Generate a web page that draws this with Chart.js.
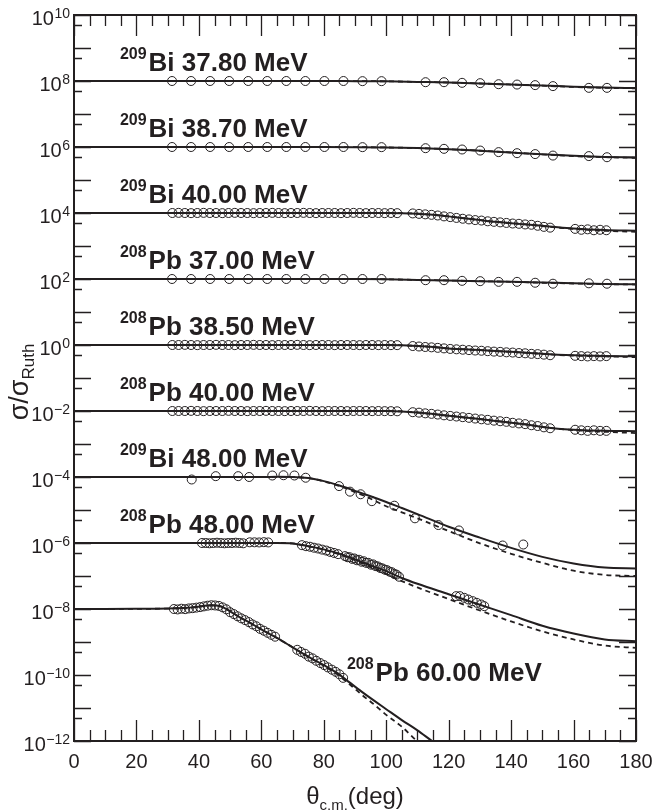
<!DOCTYPE html>
<html>
<head>
<meta charset="utf-8">
<title>Elastic scattering angular distributions</title>
<script src="https://cdn.jsdelivr.net/npm/chart.js@4.4.1/dist/chart.umd.min.js"></script>
<style>
  html, body { margin: 0; padding: 0; background: #ffffff; }
  canvas { display: block; }
</style>
</head>
<body>
<canvas id="chart" width="652" height="811"></canvas>
<script>
// ---------- data: sigma/sigma_Ruth versus theta_cm (deg) ----------

// vertical shift applied to each angular distribution
const offsets = [1e8, 1e6, 1e4, 1e2, 1, 1e-2, 1e-4, 1e-6, 1e-8];

// reaction labels
const labelIsotopes = ['209', '209', '209', '208', '208', '208', '209', '208', '208'];
const labelNuclei   = ['Bi', 'Bi', 'Bi', 'Pb', 'Pb', 'Pb', 'Bi', 'Pb', 'Pb'];
const labelEnergies = ['37.80', '38.70', '40.00', '37.00', '38.50', '40.00', '48.00', '48.00', '60.00'];

// y-axis decades that carry a label
const yLabelExponents = [-12, -10, -8, -6, -4, -2, 0, 2, 4, 6, 8, 10];
const xLabelValues = [0, 20, 40, 60, 80, 100, 120, 140, 160, 180];

// measured angles, coarse sets
const thetaSparse = [31.4, 37.5, 43.6, 49.7, 55.8, 61.9, 68.0, 74.1, 80.2, 86.3, 92.4, 98.5,
  112.6, 118.5, 124.3, 130.1, 136.0, 141.9, 147.7, 153.4, 164.9, 170.7];
const bi3780Data = [1.0, 1.0, 1.0, 1.0, 1.0, 1.0, 1.0, 1.0, 1.0, 1.0, 0.99, 0.99,
  0.92, 0.92, 0.88, 0.86, 0.80, 0.78, 0.75, 0.70, 0.62, 0.62];
const bi3870Data = [1.0, 1.0, 1.0, 1.0, 1.0, 1.0, 1.0, 1.0, 1.0, 1.0, 0.99, 0.99,
  0.92, 0.88, 0.84, 0.78, 0.70, 0.65, 0.61, 0.55, 0.53, 0.49];
const pb3700Data = [1.0, 1.0, 1.0, 1.0, 1.0, 1.0, 1.0, 1.0, 1.0, 1.0, 1.0, 1.0,
  0.92, 0.92, 0.88, 0.86, 0.82, 0.82, 0.77, 0.72, 0.74, 0.72];

// measured angles, fine sets (2 deg steps)
const thetaDense = [31.5, 33.5, 35.5, 37.5, 39.5, 41.5, 43.5, 45.5, 47.5, 49.5, 51.5, 53.5,
  55.5, 57.5, 59.5, 61.5, 63.5, 65.5, 67.5, 69.5, 71.5, 73.5, 75.5, 77.5, 79.5, 81.5, 83.5,
  85.5, 87.5, 89.5, 91.5, 93.5, 95.5, 97.5, 99.5, 101.5, 103.5,
  108.5, 110.5, 112.5, 114.5, 116.5, 118.5, 120.5, 122.5, 124.5, 126.5, 128.5, 130.5,
  132.5, 134.5, 136.5, 138.5, 140.5, 142.5, 144.5, 146.5, 148.5, 150.5, 152.5,
  160.5, 162.5, 164.5, 166.5, 168.5, 170.5];
const bi4000Data = [1.00, 1.01, 1.00, 0.99, 1.00, 1.01, 1.00, 1.00, 0.99, 1.00, 1.01, 1.00,
  1.00, 0.99, 1.00, 1.00, 1.01, 1.00, 0.99, 1.00, 1.00, 1.01, 1.00, 0.99, 1.00, 1.00, 1.00,
  0.99, 1.00, 1.01, 1.00, 0.99, 1.00, 1.00, 0.99, 1.00, 0.99,
  0.97, 0.94, 0.91, 0.88, 0.84, 0.79, 0.75, 0.71, 0.67, 0.64, 0.61, 0.59,
  0.56, 0.54, 0.52, 0.50, 0.48, 0.47, 0.45, 0.44, 0.41, 0.38, 0.36,
  0.33, 0.31, 0.32, 0.30, 0.31, 0.30];
const pb3850Data = [1.00, 1.00, 1.01, 1.00, 0.99, 1.00, 1.00, 1.01, 1.00, 1.00, 0.99, 1.00,
  1.00, 1.01, 1.00, 1.00, 0.99, 1.00, 1.00, 1.00, 1.01, 1.00, 0.99, 1.00, 1.00, 1.00, 0.99,
  1.00, 1.00, 1.00, 0.99, 1.00, 1.00, 0.99, 1.00, 0.99, 0.99,
  0.93, 0.90, 0.87, 0.85, 0.82, 0.79, 0.76, 0.74, 0.72, 0.70, 0.68, 0.67,
  0.65, 0.63, 0.62, 0.60, 0.59, 0.57, 0.56, 0.54, 0.53, 0.51, 0.49,
  0.47, 0.46, 0.45, 0.46, 0.45, 0.46];
const pb4000Data = [1.00, 1.00, 1.00, 1.01, 1.00, 0.99, 1.00, 1.00, 1.00, 1.01, 1.00, 1.00,
  0.99, 1.00, 1.00, 1.01, 1.00, 1.00, 0.99, 1.00, 1.00, 1.00, 1.01, 1.00, 0.99, 1.00, 1.00,
  1.00, 0.99, 1.00, 1.00, 1.00, 0.99, 1.00, 0.99, 0.99, 0.98,
  0.92, 0.89, 0.85, 0.82, 0.78, 0.74, 0.71, 0.68, 0.65, 0.62, 0.59, 0.56,
  0.54, 0.51, 0.49, 0.47, 0.44, 0.42, 0.40, 0.37, 0.35, 0.32, 0.30,
  0.27, 0.26, 0.25, 0.26, 0.25, 0.25];

// measured angles above the barrier
const thetaBi48 = [37.7, 45.4, 52.6, 56.1, 63.5, 67.1, 70.6, 74.2, 84.9, 88.4, 91.8, 95.4,
  102.6, 109.2, 116.7, 123.3, 137.3, 143.9];
const bi4800Data = [0.84, 1.06, 1.06, 1.0, 1.11, 1.13, 1.11, 0.95, 0.53, 0.36, 0.30, 0.185,
  0.135, 0.056, 0.035, 0.024, 0.0084, 0.009];

const thetaPb48 = [41.0, 42.2, 43.4, 44.6, 45.8, 47.0, 48.2, 49.4, 50.6, 51.8, 53.0, 54.2,
  56.3, 57.8, 59.3, 60.8, 62.2,
  73.0, 74.3, 75.6, 76.9, 78.2, 79.5, 80.8, 82.0, 83.3, 84.6,
  86.8, 87.6, 88.3, 89.1, 89.8, 90.6, 91.3, 92.1, 92.8, 93.6, 94.3, 95.1, 95.8, 96.6,
  97.3, 98.1, 98.8, 99.6, 100.3, 101.1, 101.8, 102.6, 103.3, 104.1,
  122.4, 123.6, 125.0, 126.3, 127.7, 129.0, 130.4, 131.4];
const pb4800Data = [1.0, 1.0, 0.98, 1.0, 1.02, 1.0, 0.98, 1.0, 1.0, 1.02, 1.0, 0.98,
  1.05, 1.05, 1.04, 1.06, 1.04,
  0.86, 0.80, 0.77, 0.72, 0.68, 0.63, 0.59, 0.54, 0.50, 0.46,
  0.40, 0.37, 0.37, 0.33, 0.34, 0.30, 0.31, 0.27, 0.28, 0.25, 0.25, 0.22, 0.225, 0.20,
  0.195, 0.175, 0.17, 0.155, 0.15, 0.135, 0.13, 0.115, 0.11, 0.095,
  0.0245, 0.0245, 0.0218, 0.0194, 0.0173, 0.0154, 0.0137, 0.0122];

const thetaPb60 = [32.0, 33.2, 34.4, 35.6, 36.8, 38.0, 39.2, 40.4, 41.6, 42.8, 44.0, 45.2,
  46.4, 47.6, 48.8, 50.0, 51.2, 52.4, 53.6, 54.8, 56.0, 57.2, 58.4, 59.6, 60.8, 62.0, 63.2, 64.4,
  71.5, 72.7, 74.0, 75.2, 76.4, 77.6, 78.9, 80.1, 81.3, 82.6, 83.8, 85.0, 86.2];
const pb6000Data = [1.0, 0.97, 1.02, 0.99, 1.04, 1.06, 1.1, 1.14, 1.2, 1.26, 1.3, 1.28,
  1.24, 1.12, 0.98, 0.8, 0.7, 0.6, 0.52, 0.46, 0.4, 0.34, 0.3, 0.25, 0.22, 0.19, 0.165, 0.145,
  0.058, 0.05, 0.044, 0.036, 0.032, 0.027, 0.023, 0.02, 0.017, 0.0145, 0.0125, 0.0105, 0.0082];

// calculations: solid and dashed curves
const thetaCoul = [0, 20, 40, 60, 80, 90, 100, 110, 120, 130, 140, 150, 160, 170, 180];
const bi3780Solid  = [1, 1, 1, 1, 1, 0.99, 0.98, 0.94, 0.90, 0.84, 0.78, 0.73, 0.67, 0.63, 0.61];
const bi3780Dashed = [1, 1, 1, 1, 1, 0.99, 0.98, 0.94, 0.90, 0.84, 0.78, 0.72, 0.66, 0.62, 0.60];
const bi3870Solid  = [1, 1, 1, 1, 1, 0.99, 0.97, 0.93, 0.86, 0.77, 0.68, 0.60, 0.54, 0.50, 0.48];
const bi3870Dashed = [1, 1, 1, 1, 1, 0.99, 0.97, 0.93, 0.86, 0.77, 0.68, 0.60, 0.53, 0.49, 0.47];
const pb3700Solid  = [1, 1, 1, 1, 1, 0.995, 0.98, 0.94, 0.90, 0.86, 0.82, 0.78, 0.74, 0.71, 0.69];
const pb3700Dashed = [1, 1, 1, 1, 1, 0.995, 0.98, 0.94, 0.90, 0.86, 0.82, 0.77, 0.73, 0.70, 0.68];

const thetaNear = [0, 20, 40, 60, 80, 100, 105, 110, 115, 120, 125, 130, 135, 140, 145, 150, 155, 160, 170, 180];
const bi4000Solid  = [1, 1, 1, 1, 1, 1.0, 0.99, 0.95, 0.88, 0.79, 0.69, 0.61, 0.54, 0.49, 0.45, 0.41, 0.37, 0.34, 0.305, 0.29];
const bi4000Dashed = [1, 1, 1, 1, 1, 1.0, 0.99, 0.95, 0.88, 0.79, 0.69, 0.61, 0.54, 0.49, 0.45, 0.40, 0.36, 0.33, 0.29, 0.27];
const pb3850Solid  = [1, 1, 1, 1, 1, 1.0, 0.98, 0.93, 0.87, 0.79, 0.74, 0.70, 0.66, 0.62, 0.58, 0.54, 0.51, 0.49, 0.465, 0.455];
const pb3850Dashed = [1, 1, 1, 1, 1, 1.0, 0.98, 0.93, 0.87, 0.79, 0.74, 0.70, 0.66, 0.62, 0.58, 0.54, 0.50, 0.48, 0.45, 0.43];
const pb4000Solid  = [1, 1, 1, 1, 1, 1.0, 0.97, 0.90, 0.81, 0.72, 0.64, 0.57, 0.50, 0.44, 0.39, 0.33, 0.29, 0.27, 0.25, 0.245];
const pb4000Dashed = [1, 1, 1, 1, 1, 1.0, 0.97, 0.90, 0.81, 0.72, 0.64, 0.57, 0.50, 0.44, 0.39, 0.33, 0.29, 0.265, 0.235, 0.215];

const thetaFar = [0, 20, 40, 60, 65, 70, 75, 80, 85, 90, 95, 100, 105, 110, 120, 130, 140, 150, 160, 170, 180];
const bi4800Solid  = [1, 1, 1, 1, 1.01, 1.0, 0.93, 0.75, 0.55, 0.38, 0.26, 0.175, 0.115, 0.075, 0.031, 0.0145, 0.0071, 0.0038, 0.0024, 0.0018, 0.0017];
const bi4800Dashed = [1, 1, 1, 1, 1.01, 1.0, 0.93, 0.74, 0.53, 0.35, 0.22, 0.13, 0.085, 0.056, 0.023, 0.0098, 0.0047, 0.0025, 0.00145, 0.00108, 0.001];
const pb4800Solid  = [1, 1, 1, 1, 1.0, 0.97, 0.80, 0.64, 0.47, 0.32, 0.21, 0.14, 0.087, 0.058, 0.028, 0.0135, 0.0065, 0.0031, 0.0018, 0.0012, 0.00105];
const pb4800Dashed = [1, 1, 1, 1, 1.0, 0.97, 0.80, 0.63, 0.45, 0.30, 0.19, 0.115, 0.07, 0.045, 0.02, 0.009, 0.0042, 0.0021, 0.0012, 0.00078, 0.00066];

const thetaPb60Curve = [0, 10, 20, 30, 35, 38, 41, 44, 47, 50, 53, 56, 60, 64, 68, 72, 76, 80, 84, 88, 92, 96, 100, 105, 110, 115, 120];
const pb6000Solid  = [1, 1, 1.01, 1.03, 1.07, 1.12, 1.22, 1.3, 1.2, 0.85, 0.57, 0.4, 0.24, 0.15, 0.09, 0.053, 0.032, 0.02, 0.012, 0.0062, 0.0032, 0.0017, 0.00092, 0.00043, 0.00021, 0.0000945, 0.000045];
const pb6000Dashed = [1, 1, 1.01, 1.03, 1.07, 1.12, 1.22, 1.3, 1.2, 0.85, 0.57, 0.4, 0.24, 0.15, 0.09, 0.053, 0.032, 0.019, 0.011, 0.0055, 0.0026, 0.0013, 0.00062, 0.00027, 0.000097, 0.000042, 0.000018];

// ---------- assembly ----------
const series = [
  { pts: [thetaSparse, bi3780Data], solid: [thetaCoul, bi3780Solid], dashed: [thetaCoul, bi3780Dashed] },
  { pts: [thetaSparse, bi3870Data], solid: [thetaCoul, bi3870Solid], dashed: [thetaCoul, bi3870Dashed] },
  { pts: [thetaDense, bi4000Data], solid: [thetaNear, bi4000Solid], dashed: [thetaNear, bi4000Dashed] },
  { pts: [thetaSparse, pb3700Data], solid: [thetaCoul, pb3700Solid], dashed: [thetaCoul, pb3700Dashed] },
  { pts: [thetaDense, pb3850Data], solid: [thetaNear, pb3850Solid], dashed: [thetaNear, pb3850Dashed] },
  { pts: [thetaDense, pb4000Data], solid: [thetaNear, pb4000Solid], dashed: [thetaNear, pb4000Dashed] },
  { pts: [thetaBi48, bi4800Data], solid: [thetaFar, bi4800Solid], dashed: [thetaFar, bi4800Dashed] },
  { pts: [thetaPb48, pb4800Data], solid: [thetaFar, pb4800Solid], dashed: [thetaFar, pb4800Dashed] },
  { pts: [thetaPb60, pb6000Data], solid: [thetaPb60Curve, pb6000Solid], dashed: [thetaPb60Curve, pb6000Dashed] }
];

const INK = '#231f20';
const FONT = '"Liberation Sans", Arial, Helvetica, sans-serif';

function toPoints(pair, shift) {
  const [th, vals] = pair;
  return th.map((t, i) => ({ x: t, y: vals[i] * shift }));
}

const datasets = [];
series.forEach((s, i) => {
  datasets.push({
    data: toPoints(s.pts, offsets[i]),
    showLine: false,
    pointStyle: 'circle',
    pointRadius: 4.5,
    pointBorderWidth: 1,
    pointBorderColor: INK,
    pointBackgroundColor: 'rgba(0,0,0,0)'
  });
  datasets.push({
    data: toPoints(s.solid, offsets[i]),
    showLine: true,
    pointRadius: 0,
    borderColor: INK,
    borderWidth: 2,
    cubicInterpolationMode: 'monotone'
  });
  datasets.push({
    data: toPoints(s.dashed, offsets[i]),
    showLine: true,
    pointRadius: 0,
    borderColor: INK,
    borderWidth: 1.8,
    borderDash: [5, 4],
    cubicInterpolationMode: 'monotone'
  });
});

// label anchors: theta of the left edge and the value at the text baseline
const labelTheta = [14.7, 14.7, 14.7, 14.7, 14.7, 14.7, 14.7, 14.7, 87.4];
const labelBaseline = [2.08e8, 2.08e6, 2.08e4, 2.08e2, 2.08, 2.08e-2, 2.08e-4, 2.08e-6, 6.8e-11];

const frameAndText = {
  id: 'frameAndText',
  afterDraw(chart) {
    const { ctx, chartArea: a, scales: { x, y } } = chart;
    ctx.save();
    ctx.strokeStyle = INK;
    ctx.fillStyle = INK;

    // ticks pointing inwards on all four sides
    ctx.lineWidth = 1.3;
    ctx.beginPath();
    for (let v = 0; v <= 180; v += 5) {
      const px = Math.round(x.getPixelForValue(v)) + 0.5;
      const len = v % 20 === 0 ? 21 : 11;
      ctx.moveTo(px, a.bottom); ctx.lineTo(px, a.bottom - len);
      ctx.moveTo(px, a.top); ctx.lineTo(px, a.top + len);
    }
    for (let e = -12; e <= 10; e++) {
      const marks = [[Math.pow(10, e), 17]];
      if (e < 10) marks.push([5 * Math.pow(10, e), 8]);
      marks.forEach(([v, len]) => {
        const py = Math.round(y.getPixelForValue(v)) + 0.5;
        ctx.moveTo(a.left, py); ctx.lineTo(a.left + len, py);
        ctx.moveTo(a.right, py); ctx.lineTo(a.right - len, py);
      });
    }
    ctx.stroke();

    // frame
    ctx.lineWidth = 2;
    ctx.strokeRect(a.left, a.top, a.right - a.left, a.bottom - a.top);

    // x tick labels
    ctx.font = '20px ' + FONT;
    ctx.textAlign = 'center';
    ctx.textBaseline = 'alphabetic';
    xLabelValues.forEach(v => {
      ctx.fillText(String(v), x.getPixelForValue(v), a.bottom + 27);
    });

    // y tick labels: 10 with a superscript exponent
    ctx.textAlign = 'left';
    yLabelExponents.forEach(e => {
      const py = y.getPixelForValue(Math.pow(10, e));
      const sup = e < 0 ? '\u2212' + Math.abs(e) : String(e);
      ctx.font = '14px ' + FONT;
      const supW = ctx.measureText(sup).width;
      ctx.font = '20px ' + FONT;
      const baseW = ctx.measureText('10').width;
      const right = a.left - 4;
      ctx.fillText('10', right - supW - baseW - 0.5, py + 10);
      ctx.font = '14px ' + FONT;
      ctx.fillText(sup, right - supW, py + 3);
    });

    // reaction labels
    labelIsotopes.forEach((iso, i) => {
      const px = x.getPixelForValue(labelTheta[i]);
      const py = y.getPixelForValue(labelBaseline[i]);
      ctx.font = 'bold 16px ' + FONT;
      ctx.fillText(iso, px, py - 12);
      const w = ctx.measureText(iso).width;
      ctx.font = 'bold 26px ' + FONT;
      ctx.fillText(labelNuclei[i] + ' ' + labelEnergies[i] + ' MeV', px + w + 2, py);
    });

    // x axis title: theta_c.m.(deg)
    ctx.font = '24px ' + FONT;
    const tW = ctx.measureText('\u03b8').width;
    const dW = ctx.measureText('(deg)').width;
    ctx.font = '15px ' + FONT;
    const cmW = ctx.measureText('c.m.').width;
    const xs = (a.left + a.right) / 2 - (tW + cmW + dW) / 2;
    ctx.font = '24px ' + FONT;
    ctx.fillText('\u03b8', xs, 804);
    ctx.font = '15px ' + FONT;
    ctx.fillText('c.m.', xs + tW, 810);
    ctx.font = '24px ' + FONT;
    ctx.fillText('(deg)', xs + tW + cmW, 804);

    // y axis title: sigma / sigma_Ruth
    ctx.translate(28, (a.top + a.bottom) / 2 + 4);
    ctx.rotate(-Math.PI / 2);
    ctx.font = '27px ' + FONT;
    const sW = ctx.measureText('\u03c3/\u03c3').width;
    ctx.font = '17px ' + FONT;
    const rW = ctx.measureText('Ruth').width;
    const ys = -(sW + rW) / 2;
    ctx.font = '27px ' + FONT;
    ctx.fillText('\u03c3/\u03c3', ys, 0);
    ctx.font = '17px ' + FONT;
    ctx.fillText('Ruth', ys + sW, 6);

    ctx.restore();
  }
};

new Chart(document.getElementById('chart'), {
  type: 'scatter',
  data: { datasets },
  options: {
    responsive: false,
    animation: false,
    devicePixelRatio: 1,
    layout: { padding: { left: 74, right: 16, top: 15, bottom: 70 } },
    plugins: { legend: { display: false }, tooltip: { enabled: false } },
    events: [],
    scales: {
      x: { type: 'linear', min: 0, max: 180, display: false },
      y: { type: 'logarithmic', min: 1e-12, max: 1e10, display: false }
    }
  },
  plugins: [frameAndText]
});
</script>
</body>
</html>
